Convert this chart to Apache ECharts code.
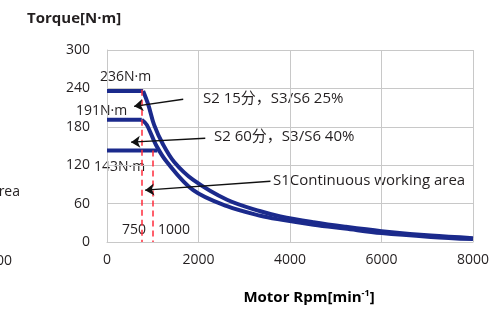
<!DOCTYPE html>
<html>
<head>
<meta charset="utf-8">
<script src="https://cdn.jsdelivr.net/npm/echarts@6/dist/echarts.min.js"></script>
<style>
  html, body { margin: 0; padding: 0; background: #fff; }
  #chart { width: 495px; height: 312px; }
</style>
</head>
<body>
<div id="chart"></div>
<script>
// rpm / torque
var outerRpm = [0, 790, 905, 1030, 1228, 1469, 1885, 2624, 3354, 3792, 4515, 5200, 6000, 7080, 8000];
var outerTorque = [236, 236, 214, 183, 152, 125, 97, 66, 48, 40, 31, 24, 17, 10, 6];
var innerRpm = [0, 760, 870, 1068, 1309, 1885, 2624, 3354, 3792, 4515, 5200, 6000, 7080, 8000];
var innerTorque = [191, 191, 183, 152, 125, 81, 56, 41, 35, 27, 21, 14, 8, 4.5];
var s1Rpm = [0, 1000, 1100];
var s1Torque = [143, 143, 143];
var dashRpm = [750, 1000];
var dashTop = [238, 143];
// arrows: [fromRpm, fromTorque, toRpm, toTorque]
var arrows = [
  [1666, 223, 592, 212],
  [2148, 162, 526, 156],
  [3573, 95, 833, 81]
];

var font = "'Open Sans', 'Noto Sans CJK SC', sans-serif";
var ink = '#231f20';
var blue = '#1b2a8c';

function pts(xs, ys) {
  var out = [];
  for (var i = 0; i < xs.length; i++) out.push([xs[i], ys[i]]);
  return out;
}
var outer = pts(outerRpm, outerTorque);
var inner = pts(innerRpm, innerTorque);

function lineSeries(data, smooth) {
  return {
    type: 'line', data: data, smooth: smooth,
    symbol: 'none', silent: true,
    lineStyle: { color: blue, width: 4 }
  };
}

var series = [
  lineSeries(outer.slice(0, 2), false),
  lineSeries(outer.slice(1), 0.35),
  lineSeries(inner.slice(0, 2), false),
  lineSeries(inner.slice(1), 0.35),
  lineSeries(pts(s1Rpm, s1Torque), false)
];

// red dashed markers
series.push({
  type: 'line', data: [], silent: true,
  markLine: {
    symbol: 'none', silent: true, label: { show: false },
    lineStyle: { color: '#ff2b3b', type: [6, 4], width: 1.5 },
    data: dashRpm.map(function (r, i) { return [{ coord: [r, dashTop[i]] }, { coord: [r, 0] }]; })
  }
});
// annotation arrows
series.push({
  type: 'line', data: [], silent: true, z: 5,
  markLine: {
    symbol: ['none', 'arrow'], symbolSize: 9, silent: true, label: { show: false },
    lineStyle: { color: '#111', type: 'solid', width: 1.4 },
    data: arrows.map(function (a) { return [{ coord: [a[0], a[1]] }, { coord: [a[2], a[3]] }]; })
  }
});

function txt(x, y, s, size, align, bold) {
  return {
    type: 'text', x: x, y: y, silent: true,
    style: {
      text: s, fill: ink, align: align || 'left', verticalAlign: 'middle',
      font: (bold ? 'bold ' : '') + size + 'px ' + font
    }
  };
}

var chart = echarts.init(document.getElementById('chart'));
chart.setOption({
  animation: false,
  backgroundColor: '#fff',
  grid: { left: 107, right: 22, top: 50, bottom: 70 },
  xAxis: {
    type: 'value', min: 0, max: 8000, interval: 2000,
    axisLine: { show: true, lineStyle: { color: '#c8c8c8' } },
    axisTick: { show: false },
    axisLabel: { color: ink, fontSize: 14, fontFamily: font, margin: 11, formatter: function (v) { return String(v); } },
    splitLine: { show: true, lineStyle: { color: '#c8c8c8', width: 1 } }
  },
  yAxis: {
    type: 'value', min: 0, max: 300, interval: 60,
    axisLine: { show: true, lineStyle: { color: '#c8c8c8' } },
    axisTick: { show: false },
    axisLabel: { color: ink, fontSize: 14, fontFamily: font, margin: 17 },
    splitLine: { show: true, lineStyle: { color: '#c8c8c8', width: 1 } }
  },
  series: series,
  graphic: [
    txt(27, 19, 'Torque[N·m]', 15, 'left', true),
    {
      type: 'text', x: 309, y: 298, silent: true,
      style: {
        text: '{b|Motor Rpm[min}{s|-1}{b|]}', align: 'center', verticalAlign: 'middle',
        rich: {
          b: { fontSize: 15, fontWeight: 'bold', fontFamily: font, color: ink },
          s: { fontSize: 9, fontWeight: 'bold', fontFamily: font, color: ink, padding: [0, 0, 9, 0] }
        }
      }
    },
    txt(100, 77, '236N·m', 14),
    txt(76, 111, '191N·m', 14),
    txt(94, 167, '143N·m', 14),
    txt(122, 230, '750', 14),
    txt(158, 230, '1000', 14),
    txt(203, 99, 'S2 15分，S3/S6 25%', 15),
    txt(214, 137, 'S2 60分，S3/S6 40%', 15),
    txt(273, 181, 'S1Continuous working area', 15),
    txt(20, 192, 'area', 14, 'right'),
    txt(12, 261, '8000', 14, 'right')
  ]
});
</script>
</body>
</html>
